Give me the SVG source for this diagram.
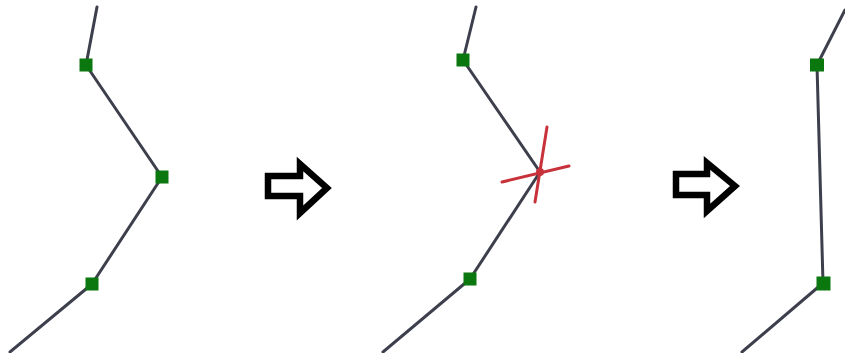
<svg xmlns="http://www.w3.org/2000/svg" width="845" height="353" viewBox="0 0 845 353">
<style>
.ln{fill:none;stroke:#3d3f4c;stroke-width:3;stroke-linecap:round;stroke-linejoin:round}
.v{fill:#0b770f}
.arr{fill:none;stroke:#000;stroke-width:6.5;stroke-linejoin:miter}
.x{stroke:#c8323a;stroke-width:3;stroke-linecap:round}
</style>
<rect width="845" height="353" fill="#fff"/>
<g id="connectors">
<polyline class="ln" points="97,7 86,65 162,177 92,284 10,352"/>
<polyline class="ln" points="476,7 463,60 540,172 470,279 383,352"/>
<polyline class="ln" points="845,10 817,65 823,283 742,352"/>
</g>
<g id="panel1">
<rect class="v" x="79.5" y="58.5" width="13" height="13"/>
<rect class="v" x="155.5" y="170.5" width="13" height="13"/>
<rect class="v" x="85.5" y="277.5" width="13" height="13"/>
</g>
<g id="arrow1">
<path class="arr" d="M268,176 H300 V164 L327,188 L300,213 V196 H268 Z"/>
</g>
<g id="panel2">
<rect class="v" x="456.5" y="53.5" width="13" height="13"/>
<rect class="v" x="463.5" y="272.5" width="13" height="13"/>
<circle cx="540" cy="172" r="4" fill="#c8323a"/>
<line class="x" x1="502" y1="182" x2="569" y2="166"/>
<line class="x" x1="547" y1="127" x2="535" y2="202"/>
</g>
<g id="arrow2">
<path class="arr" d="M676,174 H707 V163 L735,186 L707,211 V195 H676 Z"/>
</g>
<g id="panel3">
<rect class="v" x="810" y="58.5" width="14" height="13"/>
<rect class="v" x="816.5" y="276.5" width="14" height="14"/>
</g>
</svg>
